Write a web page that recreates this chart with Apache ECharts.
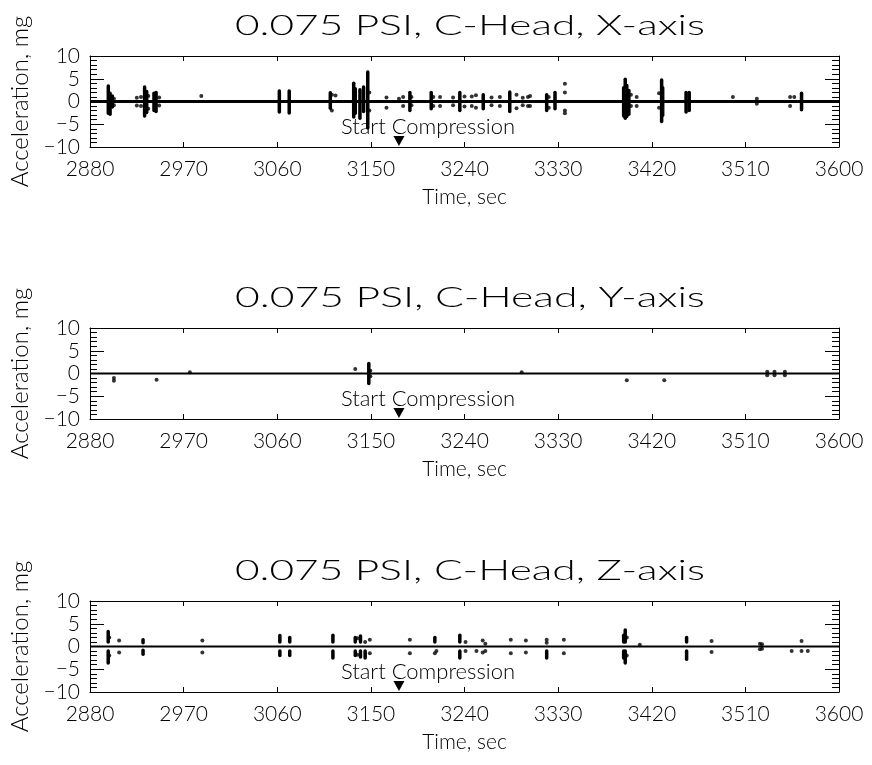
<!DOCTYPE html>
<html><head><meta charset="utf-8">
<script src="https://cdn.jsdelivr.net/npm/echarts@6/dist/echarts.min.js"></script>
<style>html,body{margin:0;padding:0;background:#fff}#c{width:872px;height:765px}</style>
</head><body><div id="c"></div>
<script>
const titles = ['0.075 PSI, C-Head, X-axis', '0.075 PSI, C-Head, Y-axis', '0.075 PSI, C-Head, Z-axis'];
const xTickMin = 2880, xTickMax = 3600, xTickStep = 90;
const yTickMin = -10, yTickMax = 10, yTickStep = 5;
const compressionTime = 3177;
const compressionLabel = 'Start Compression';
const baselineTimes = [2880, 3600];
const baselineValues = [0, 0];

// bursts: [time, from, to] in mg
const xAxisBursts = [
 [2897.6,-2.6,3.4],[2899.3,-2.8,1.8],[2901.5,-1.2,1.2],
 [2932.5,-3.2,3.2],[2934.5,-2.4,2.2],[2941.5,-2.0,1.8],[2943.5,-2.2,2.0],
 [3062,-2.3,2.3],[3071.5,-2.5,2.3],[3111,-1.5,1.9],
 [3133.5,-3.4,4.0],[3135,-2.6,2.8],[3139.5,-3.7,2.6],[3143,-2.2,3.2],[3147,-5.8,6.5],
 [3187.5,-2.0,2.0],[3208,-1.6,2.0],[3235.5,-2.0,2.0],[3258,-1.6,1.5],[3283.5,-2.2,2.1],
 [3319,-2.0,1.5],[3327,-1.6,2.0],
 [3393,-3.2,3.0],[3394.5,-3.7,4.9],[3396,-3.3,3.5],[3398,-2.8,2.4],
 [3429.5,-4.4,4.7],[3430.5,-3.0,3.0],[3453,-2.3,2.0],[3456,-2.0,2.0],[3564,-1.8,1.8]
];
const xAxisDots = [
 [2903,0.6],[2903,-0.8],[2925,0.8],[2925,-0.9],[2929,1.0],[2929,-1.0],[2936,1.2],[2936,-1.6],
 [2946.5,0.9],[2946.5,-0.9],[2987,1.2],[3112.5,1.5],[3112.5,-2.0],[3116,1.3],
 [3148.5,2.0],[3148.5,-2.0],[3165,0.9],[3165,-1.4],[3177,0.6],[3181,1.0],[3181,-1.0],
 [3189,1.0],[3189,-0.8],[3210,1.0],[3210,-1.0],[3216.5,1.0],[3216.5,-1.0],[3229,0.9],[3229,-0.8],
 [3240,1.1],[3240,-1.1],[3247,1.1],[3247,-1.0],[3251,1.4],[3251,-1.4],[3266,0.9],[3266,-0.8],
 [3274,1.0],[3274,-1.0],[3290,1.5],[3290,-1.5],[3296,0.8],[3296,-0.8],[3301,1.0],[3301,-1.0],
 [3303,1.2],[3303,-1.0],[3321,1.0],[3321,-1.4],[3336.5,3.9],[3336.5,2.0],[3336.5,-2.0],[3336.5,-2.6],
 [3400,1.5],[3400,-1.0],[3405.5,1.0],[3405.5,-1.0],[3427,1.8],[3427,-1.4],
 [3498,1.0],[3521,0.6],[3521,-0.5],[3553,1.0],[3553,-1.0],[3557,1.0]
];
const yAxisBursts = [[3148,-2.2,2.2]];
const yAxisDots = [
 [2903,-1.0],[2903,-1.6],[2944,-1.4],[2976,0.3],[3135,1.0],[3149.5,0.6],[3149.5,-0.6],
 [3295,0.3],[3396,-1.5],[3432,-1.5],
 [3531,0.4],[3531,-0.4],[3538,0.4],[3538,-0.4],[3548,0.4],[3548,-0.4]
];
const zAxisBursts = [
 [2897.5,1.0,3.3],[2897.5,-3.6,-1.0],[2931,0.8,1.5],[2931,-1.7,-0.8],
 [3062.5,1.0,2.4],[3062.5,-2.0,-1.0],[3072,1.0,2.0],[3072,-2.0,-1.0],
 [3113.5,1.0,2.5],[3113.5,-2.5,-1.0],[3135,1.0,2.0],[3135,-2.0,-1.0],
 [3140,1.0,2.3],[3140,-2.3,-1.0],[3144.5,-2.5,-1.0],
 [3211.5,1.0,2.0],[3235.5,1.0,2.5],[3235.5,-2.5,-1.0],[3319,-2.5,-1.0],
 [3393,1.0,2.5],[3393,-2.5,-1.0],[3394.5,1.0,3.6],[3394.5,-3.6,-1.0],
 [3453.5,1.0,2.0],[3453.5,-2.8,-1.0]
];
const zAxisDots = [
 [2898.5,2.0],[2898.5,-2.0],[2908,1.3],[2908,-1.3],[2988,1.3],[2988,-1.3],
 [3137,1.8],[3137,-1.8],[3144.5,1.0],[3149,1.5],[3149,-1.5],[3187.5,1.5],[3187.5,-1.5],
 [3211.5,-1.5],[3213,-1.0],[3241,1.0],[3241,-1.0],[3251.5,-1.0],
 [3257.5,1.3],[3257.5,-1.3],[3260,0.6],[3260,-1.0],[3284.5,1.5],[3284.5,-1.5],[3299,1.3],[3299,-1.3],
 [3319,1.5],[3319,0.8],[3335.5,1.5],[3335.5,-1.5],[3396,2.0],[3396,-2.0],[3408.5,0.4],
 [3477.5,1.2],[3477.5,-1.2],[3524,0.6],[3524,-0.6],[3526,0.5],[3526,-0.5],
 [3554.5,-1.0],[3564,1.2],[3564,-1.0],[3570,-1.0]
];
const burstSets = [xAxisBursts, yAxisBursts, zAxisBursts];
const dotSets = [xAxisDots, yAxisDots, zAxisDots];
const baselineWidths = [3, 2.2, 2.2];

const gridTops = [56, 328, 601];
const gridHeight = 91;
const FONT = 'Lato';
const txt = (size) => ({color: '#000', fontFamily: FONT, fontWeight: 300, fontSize: size});
const yFmt = v => String(v).replace('-', '\u2212');
const plainFmt = v => String(v);

const mctx = document.createElement('canvas').getContext('2d');
mctx.font = '300 28px Lato';

const option = {
  backgroundColor: '#fff', animation: false,
  graphic: [], grid: [], xAxis: [], yAxis: [], series: []
};
const baseline = baselineTimes.map((t, i) => [t, baselineValues[i]]);

for (let i = 0; i < 3; i++) {
  const top = gridTops[i];
  const w = mctx.measureText(titles[i]).width || 360;
  option.graphic.push({
    type: 'text', x: 470, y: top - 16, scaleX: 470 / w, silent: true,
    style: {text: titles[i], fill: '#000', font: '300 28px Lato', textAlign: 'center', textVerticalAlign: 'bottom'}
  });
  option.grid.push({left: 90, width: 749, top: top, height: gridHeight});
  const mkX = (pos) => ({
    type: 'value', gridIndex: i, min: xTickMin, max: xTickMax, interval: xTickStep, position: pos,
    axisLine: {show: true, onZero: false, lineStyle: {color: '#000', width: 1}},
    axisTick: {show: true, inside: true, length: 5, lineStyle: {color: '#000', width: 1}},
    minorTick: {show: false},
    splitLine: {show: false}
  });
  const xb = mkX('bottom');
  xb.axisLabel = Object.assign({show: true, margin: 12, formatter: plainFmt,
    showMinLabel: true, showMaxLabel: true}, txt(21));
  xb.name = 'Time, sec'; xb.nameLocation = 'middle'; xb.nameGap = 40;
  xb.nameTextStyle = txt(21);
  const xt = mkX('top');
  xt.axisLabel = {show: false};
  option.xAxis.push(xb, xt);
  const mkY = (pos) => ({
    type: 'value', gridIndex: i, min: yTickMin, max: yTickMax, interval: yTickStep, position: pos,
    axisLine: {show: true, onZero: false, lineStyle: {color: '#000', width: 1}},
    axisTick: {show: true, inside: true, length: 14, lineStyle: {color: '#000', width: 1}},
    minorTick: {show: true, splitNumber: 5, length: 7, lineStyle: {color: '#000', width: 1}},
    splitLine: {show: false}, minorSplitLine: {show: false}
  });
  const yl = mkY('left');
  yl.axisLabel = Object.assign({show: true, margin: 10, formatter: yFmt,
    showMinLabel: true, showMaxLabel: true}, txt(21));
  yl.name = 'Acceleration, mg'; yl.nameLocation = 'middle'; yl.nameRotate = 90; yl.nameGap = 58;
  yl.nameTextStyle = txt(24);
  const yr = mkY('right');
  yr.axisLabel = {show: false};
  option.yAxis.push(yl, yr);

  option.series.push({
    type: 'line', xAxisIndex: 2 * i, yAxisIndex: 2 * i, data: baseline,
    symbol: 'none', lineStyle: {color: '#000', width: baselineWidths[i]}, silent: true,
    markPoint: {
      symbol: 'triangle', symbolRotate: 180, symbolSize: [11, 10], silent: true,
      itemStyle: {color: '#000'},
      data: [{coord: [compressionTime, -8.7], value: compressionLabel}],
      label: Object.assign({show: true, position: 'inside', offset: [29, -14],
        formatter: compressionLabel}, txt(22))
    }
  });
  option.series.push({
    type: 'custom', xAxisIndex: 2 * i, yAxisIndex: 2 * i, data: burstSets[i], silent: true,
    encode: {x: 0, y: [1, 2]},
    renderItem: (params, api) => {
      const a = api.coord([api.value(0), api.value(1)]);
      const b = api.coord([api.value(0), api.value(2)]);
      return {type: 'line', shape: {x1: a[0], y1: a[1], x2: b[0], y2: b[1]},
        style: {stroke: '#000', lineWidth: 3.5, lineCap: 'round'}};
    }
  });
  option.series.push({
    type: 'scatter', xAxisIndex: 2 * i, yAxisIndex: 2 * i, data: dotSets[i],
    symbol: 'circle', symbolSize: 4, itemStyle: {color: '#000'}, silent: true
  });
}
const chart = echarts.init(document.getElementById('c'), null, {renderer: 'canvas'});
chart.setOption(option);
</script></body></html>
